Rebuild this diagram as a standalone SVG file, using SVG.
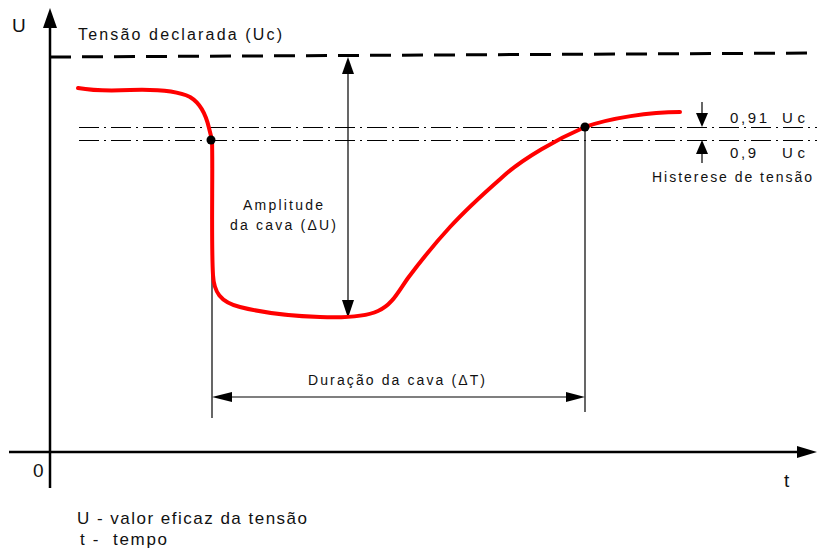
<svg xmlns="http://www.w3.org/2000/svg" width="817" height="552" viewBox="0 0 817 552">
<style>
text{font-family:"Liberation Sans",Arial,sans-serif;fill:#111}
.axis{stroke:#000;stroke-width:2.5;fill:none}
.thin{stroke:#000;stroke-width:1.2;fill:none}
.dd{stroke:#000;stroke-width:1;fill:none;stroke-dasharray:20 5 2 5}
.ah{fill:#000;stroke:none}
</style>
<rect width="817" height="552" fill="#fff"/>
<g id="axes">
<line class="axis" x1="50" y1="488" x2="50" y2="24"/>
<polygon class="ah" points="50,8 43,28 57,28"/>
<line class="axis" x1="9" y1="452" x2="800" y2="452"/>
<polygon class="ah" points="817,452 797,446 797,458"/>
<text x="12" y="32" font-size="19">U</text>
<text x="33" y="477" font-size="19">0</text>
<text x="784" y="487" font-size="19">t</text>
</g>
<g id="declared-voltage">
<line x1="50" y1="57" x2="817" y2="53" stroke="#000" stroke-width="3" stroke-dasharray="21 11"/>
<text x="78" y="40" font-size="16" textLength="204" lengthAdjust="spacing">Tensão declarada (Uc)</text>
</g>
<g id="thresholds">
<line class="dd" x1="79" y1="127.5" x2="817" y2="127.5"/>
<line class="dd" x1="79" y1="140.5" x2="817" y2="140.5"/>
<text x="730" y="123" font-size="15" textLength="37" lengthAdjust="spacing">0,91</text>
<text x="782" y="123" font-size="15" textLength="23" lengthAdjust="spacing">Uc</text>
<text x="730" y="158" font-size="15" textLength="26" lengthAdjust="spacing">0,9</text>
<text x="782" y="158" font-size="15" textLength="23" lengthAdjust="spacing">Uc</text>
<text x="652" y="182" font-size="14" textLength="160" lengthAdjust="spacing">Histerese de tensão</text>
</g>
<g id="connectors">
<line class="thin" x1="212" y1="140" x2="212" y2="418"/>
<line class="thin" x1="585" y1="127" x2="585" y2="412"/>
<line class="thin" x1="348" y1="70" x2="348" y2="302"/>
<polygon class="ah" points="348,57 342,74 354,74"/>
<polygon class="ah" points="348,318 342,300 354,300"/>
<line class="thin" x1="228" y1="397" x2="570" y2="397"/>
<polygon class="ah" points="212,397 232,392 232,402"/>
<polygon class="ah" points="585,397 566,392 566,402"/>
<line class="thin" x1="702" y1="102" x2="702" y2="116"/>
<polygon class="ah" points="702,127 696,113 708,113"/>
<line class="thin" x1="702" y1="150" x2="702" y2="163"/>
<polygon class="ah" points="702,140 696,154 708,154"/>
</g>
<g id="sag-curve">
<path d="M78,88 C95,91 110,91 130,90 C160,89 180,92 190,97 C200,103 206,115 209,128 L212,140 C213,170 211,240 213,275 C214,292 220,302 240,307 C260,312 290,316 320,317 C345,318 365,317 378,311 C392,305 398,292 408,278 C420,262 438,240 450,227 C470,205 490,188 507,173 C525,158 555,140 585,127 C610,118 650,112 680,112" fill="none" stroke="#ff0000" stroke-width="4" stroke-linecap="round" stroke-linejoin="round"/>
<circle cx="211" cy="140" r="4.5" fill="#000"/>
<circle cx="585" cy="127" r="4.5" fill="#000"/>
</g>
<g id="labels">
<text x="243" y="210" font-size="14" textLength="80" lengthAdjust="spacing">Amplitude</text>
<text x="230" y="230" font-size="14" textLength="106" lengthAdjust="spacing">da cava (ΔU)</text>
<text x="308" y="385" font-size="14" textLength="177" lengthAdjust="spacing">Duração da cava (ΔT)</text>
</g>
<g id="legend">
<text x="77" y="524" font-size="17" textLength="230" lengthAdjust="spacing">U - valor eficaz da tensão</text>
<text x="80" y="545" font-size="17" textLength="87" lengthAdjust="spacing" xml:space="preserve">t -  tempo</text>
</g>
</svg>
